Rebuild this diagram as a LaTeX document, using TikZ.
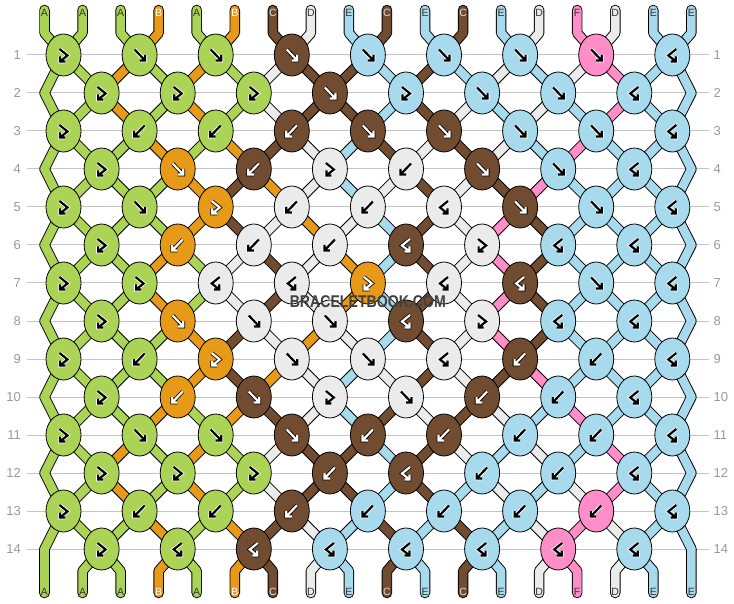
\documentclass[tikz,border=0pt]{standalone}
\usepackage{fontspec}
\setmainfont{Liberation Sans}
\usetikzlibrary{shapes.geometric}
\pgfdeclarelayer{grid}
\pgfdeclarelayer{segout}
\pgfdeclarelayer{segin}
\pgfsetlayers{grid,segout,segin,main}
\definecolor{colA}{HTML}{ABD456}
\definecolor{colB}{HTML}{E69A17}
\definecolor{colC}{HTML}{714C30}
\definecolor{colD}{HTML}{EBEBEB}
\definecolor{colE}{HTML}{A7DAEC}
\definecolor{colF}{HTML}{FF8DC8}
\definecolor{rowgrey}{HTML}{C4C4C4}
\definecolor{numgrey}{HTML}{9A9A9A}
\definecolor{wmgrey}{HTML}{404040}
\def\fgA{black}\def\fgB{white}\def\fgC{white}\def\fgD{black}\def\fgE{black}\def\fgF{black}
\def\hlA{white}\def\hlB{black}\def\hlC{black}\def\hlD{white}\def\hlE{white}\def\hlF{white}
\def\ltA{black!80}\def\ltB{white}\def\ltC{white!88!black}\def\ltD{black!80}\def\ltE{black!80}\def\ltF{black!80}
\expandafter\def\csname st0\endcsname{A,A,A,B,A,B,C,D,E,C,E,C,E,D,F,D,E,E}
\expandafter\def\csname st1\endcsname{A,A,B,A,B,A,D,C,C,E,C,E,D,E,D,F,E,E}
\expandafter\def\csname st2\endcsname{A,A,B,A,B,A,D,C,C,E,C,D,E,D,E,F,E,E}
\expandafter\def\csname st3\endcsname{A,A,A,B,A,B,C,D,E,C,D,C,D,E,F,E,E,E}
\expandafter\def\csname st4\endcsname{A,A,A,A,B,C,B,D,E,D,C,D,C,F,E,E,E,E}
\expandafter\def\csname st5\endcsname{A,A,A,A,B,C,D,B,D,E,C,D,F,C,E,E,E,E}
\expandafter\def\csname st6\endcsname{A,A,A,B,A,D,C,D,B,E,C,D,F,C,E,E,E,E}
\expandafter\def\csname st7\endcsname{A,A,A,B,A,D,C,D,B,E,C,D,F,C,E,E,E,E}
\expandafter\def\csname st8\endcsname{A,A,A,A,B,C,D,B,D,E,C,D,F,C,E,E,E,E}
\expandafter\def\csname st9\endcsname{A,A,A,A,B,C,B,D,E,D,C,D,C,F,E,E,E,E}
\expandafter\def\csname st10\endcsname{A,A,A,B,A,B,C,D,E,C,D,C,D,E,F,E,E,E}
\expandafter\def\csname st11\endcsname{A,A,B,A,B,A,D,C,C,E,C,D,E,D,E,F,E,E}
\expandafter\def\csname st12\endcsname{A,A,B,A,B,A,D,C,C,E,C,E,D,E,D,F,E,E}
\expandafter\def\csname st13\endcsname{A,A,A,B,A,B,C,D,E,C,E,C,E,D,F,D,E,E}
\expandafter\def\csname st14\endcsname{A,A,A,B,A,B,C,D,E,C,E,C,E,D,F,D,E,E}
\tikzset{
  knot/.style={ellipse, draw=black, line width=0.8pt, minimum width=35pt, minimum height=42pt, inner sep=0pt},
  segO/.style={line width=10.5pt, draw=black, line cap=round, line join=round},
  segI/.style={line width=8.6pt, line cap=round, line join=round},
  rowline/.style={draw=rowgrey, line width=1pt},
  rownum/.style={text=numgrey, font=\fontsize{13}{13}\selectfont, inner sep=0pt},
  strlabel/.style={font=\fontsize{10.5}{10.5}\selectfont, inner sep=0pt},
  wmtext/.style={font=\bfseries\fontsize{17}{17}\selectfont, inner sep=0pt},
}
\newcommand\gpF[2]{\draw[color=#1,line width=#2pt] (-5,-5.5) -- (5.5,5.5) (0,5.5) -- (5.5,5.5) -- (5.5,0);}
\newcommand\gpB[2]{\draw[color=#1,line width=#2pt] (5,-5.5) -- (-5.5,5.5) (0,5.5) -- (-5.5,5.5) -- (-5.5,0);}
\newcommand\gpFB[2]{\draw[color=#1,line width=#2pt] (-4,-6) -- (4,0.5) -- (-3.5,6.5) (1.5,6.5) -- (-3.5,6.5) -- (-3.5,1.5);}
\newcommand\gpBF[2]{\draw[color=#1,line width=#2pt] (4,-6) -- (-4,0.5) -- (3.5,6.5) (-1.5,6.5) -- (3.5,6.5) -- (3.5,1.5);}
\newcommand\myglyph[4]{\begin{scope}[shift={(#2)}]\csname gp#1\endcsname{#4}{3.8}\csname gp#1\endcsname{#3}{2.2}\end{scope}}
\newcommand\knotrow[2]{%
  \pgfmathsetmacro\ky{55+38*(#1-1)}%
  \foreach \kt/\kc [count=\kn from 0] in {#2} {%
    \ifodd#1\relax \pgfmathsetmacro\kx{63.5+76.1*\kn}\else \pgfmathsetmacro\kx{101.6+76.1*\kn}\fi
    \node[knot, fill=col\kc] (k-#1-\kn) at (\kx,\ky) {};
    \edef\gfg{\csname fg\kc\endcsname}\edef\ghl{\csname hl\kc\endcsname}%
    \myglyph{\kt}{k-#1-\kn}{\gfg}{\ghl}%
  }}
% draws all thread pieces with the style given as #1 (outline or colour)
\newcommand\allsegments[1]{%
  \foreach \r in {1,...,13} {%
    \pgfmathtruncatemacro\rn{\r+1}%
    \edef\curst{\csname st\r\endcsname}%
    \foreach \scl [count=\p from 0] in \curst {%
      \draw[#1] (p-\r-\p) -- (p-\rn-\p);
    }%
  }%
  \edef\curst{\csname st0\endcsname}%
  \foreach \scl [count=\p from 0] in \curst {%
    \draw[#1] (t-\p-a) -- (t-\p-b) -- (p-1-\p);
  }%
  \edef\curst{\csname st14\endcsname}%
  \foreach \scl [count=\p from 0] in \curst {%
    \draw[#1] (p-14-\p) -- (b-\p-a) -- (b-\p-b);
  }%
}
\begin{document}
\begin{tikzpicture}[x=1pt,y=-1pt]
\useasboundingbox (0,0) rectangle (734,604);
\begin{pgfonlayer}{grid}
\fill[white] (0,0) rectangle (734,604);
\foreach \r in {1,...,14} {
  \pgfmathsetmacro\ly{55+38*(\r-1)}
  \draw[rowline] (27,\ly) -- (709,\ly);
}
\end{pgfonlayer}
\foreach \r in {1,...,14} {
  \pgfmathsetmacro\ly{55+38*(\r-1)}
  \node[rownum, anchor=east] (nl-\r) at (21,\ly) {\r};
  \node[rownum, anchor=west] (nr-\r) at (713.5,\ly) {\r};
}
% knots
\knotrow{1}{FB/A,F/A,F/A,F/C,F/E,F/E,F/E,F/F,BF/E}
\knotrow{2}{FB/A,FB/A,FB/A,F/C,FB/E,F/E,F/E,BF/E}
\knotrow{3}{FB/A,B/A,B/A,B/C,F/C,F/C,F/E,F/E,BF/E}
\knotrow{4}{FB/A,F/B,B/C,FB/D,B/D,F/C,F/E,BF/E}
\knotrow{5}{FB/A,F/A,FB/B,B/D,B/D,BF/D,F/C,F/E,BF/E}
\knotrow{6}{FB/A,B/B,B/D,B/D,BF/C,FB/D,BF/E,BF/E}
\knotrow{7}{FB/A,FB/A,BF/D,BF/D,FB/B,BF/D,BF/C,F/E,BF/E}
\knotrow{8}{FB/A,F/B,F/D,F/D,BF/C,FB/D,BF/E,BF/E}
\knotrow{9}{FB/A,B/A,FB/B,F/D,F/D,BF/D,B/C,B/E,BF/E}
\knotrow{10}{FB/A,B/B,F/C,FB/D,F/D,B/C,B/E,BF/E}
\knotrow{11}{FB/A,F/A,F/A,F/C,B/C,B/C,B/E,B/E,BF/E}
\knotrow{12}{FB/A,FB/A,FB/A,B/C,BF/C,B/E,B/E,BF/E}
\knotrow{13}{FB/A,B/A,B/A,B/C,B/E,B/E,B/E,B/F,BF/E}
\knotrow{14}{FB/A,BF/A,BF/C,BF/E,BF/E,BF/E,BF/F,BF/E}
% string position coordinates per row
\foreach \r in {1,...,14} {%
  \pgfmathsetmacro\ey{55+38*(\r-1)}%
  \ifodd\r\relax\else
    \coordinate (e-\r-L) at (44.5,\ey);
    \coordinate (e-\r-R) at (691.4,\ey);
  \fi
  \foreach \p in {0,...,17} {%
    \ifodd\r\relax
      \pgfmathtruncatemacro\kk{floor(\p/2)}%
      \coordinate (p-\r-\p) at (k-\r-\kk);
    \else
      \ifnum\p=0\relax \coordinate (p-\r-\p) at (e-\r-L);
      \else\ifnum\p=17\relax \coordinate (p-\r-\p) at (e-\r-R);
      \else \pgfmathtruncatemacro\kk{floor((\p-1)/2)}\coordinate (p-\r-\p) at (k-\r-\kk);
      \fi\fi
    \fi
  }%
}
% top and bottom string ends, with their labels
\edef\curst{\csname st0\endcsname}
\foreach \scl [count=\p from 0] in \curst {%
  \pgfmathsetmacro\sx{44.5+38.05*\p}%
  \coordinate (t-\p-a) at (\sx,10);
  \coordinate (t-\p-b) at (\sx,33);
  \coordinate (b-\p-a) at (\sx,571);
  \coordinate (b-\p-b) at (\sx,593);
  \edef\ltc{\csname lt\scl\endcsname}%
  \node[strlabel, text=\ltc] (tl-\p) at (\sx,12.5) {\scl};
  \node[strlabel, text=\ltc] (bl-\p) at (\sx,592) {\scl};
}
% thread pieces: outlines, then colours
\begin{pgfonlayer}{segout}
\allsegments{segO}
\end{pgfonlayer}
\begin{pgfonlayer}{segin}
\allsegments{segI, draw=col\scl}
\end{pgfonlayer}
% watermark
\node[wmtext, text=wmgrey] (wm) at (367.8,302) {\scalebox{0.83}[1]{BRACELETBOOK.COM}};
\end{tikzpicture}
\end{document}
